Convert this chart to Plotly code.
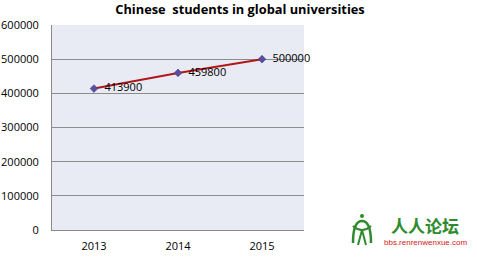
import plotly.graph_objects as go

years = ["2013", "2014", "2015"]
students = [413900, 459800, 500000]
labels = ["413900", "459800", "500000"]
y_ticks = [0, 100000, 200000, 300000, 400000, 500000, 600000]

W, H = 477, 257
L, R, T, B = 52, 173, 25, 27
pw, ph = W - L - R, H - T - B

def px(x):
    return (x - L) / pw

def py(y):
    return (H - B - y) / ph

fig = go.Figure()
fig.add_trace(go.Scatter(
    x=years, y=students, mode="lines+markers+text",
    text=["  " + t for t in labels], textposition="middle right",
    textfont=dict(family="Open Sans", size=11, color="#000000"),
    line=dict(color="#B01818", width=2),
    marker=dict(symbol="diamond", size=6, color="#5B4C9E",
                line=dict(color="#3A3A8A", width=0.5)),
    cliponaxis=False, showlegend=False,
))

fig.update_layout(
    width=W, height=H,
    margin=dict(l=L, r=R, t=T, b=B, autoexpand=False),
    paper_bgcolor="white",
    plot_bgcolor="#E8EAF4",
    title=dict(text="<b>Chinese  students in global universities</b>",
               x=240 / W, xref="container", xanchor="center",
               y=1 - 9.5 / H, yref="container", yanchor="middle",
               font=dict(family="Open Sans", size=12.8, color="#000000")),
    xaxis=dict(type="category", range=[-0.5, 2.5], showgrid=False,
               showline=True, linecolor="#8A8A8A", linewidth=1,
               ticks="", automargin=False,
               tickfont=dict(family="Open Sans", size=11, color="#000000"),
               ticklabelstandoff=6),
    yaxis=dict(range=[0, 600000], tickvals=y_ticks,
               ticktext=[str(v) for v in y_ticks],
               showgrid=True, gridcolor="#8C8C8C", gridwidth=1,
               showline=True, linecolor="#8A8A8A", linewidth=1,
               zeroline=False, ticks="", automargin=False,
               tickfont=dict(family="Open Sans", size=11, color="#000000"),
               ticklabelstandoff=10),
)

# watermark logo (decoration)
fig.add_annotation(text="<b>人人论坛</b>", xref="paper", yref="paper",
                   x=px(425), y=py(225), xanchor="center", yanchor="middle",
                   showarrow=False,
                   font=dict(family="Noto Sans CJK SC", size=17, color="#2E8B2E"))
fig.add_annotation(text="bbs.renrenwenxue.com", xref="paper", yref="paper",
                   x=px(425), y=py(242), xanchor="center", yanchor="middle",
                   showarrow=False,
                   font=dict(family="Liberation Sans", size=8, color="#D42020"))
icon_color = "#2E8B2E"
fig.add_shape(type="circle", xref="paper", yref="paper",
              x0=px(360), x1=px(364), y0=py(218), y1=py(214),
              fillcolor=icon_color, line=dict(width=0))
fig.add_shape(type="path", xref="paper", yref="paper",
              path=(f"M {px(353)},{py(243)} Q {px(353)},{py(221)} {px(362)},{py(221)} "
                    f"Q {px(371)},{py(221)} {px(371)},{py(243)}"),
              line=dict(color=icon_color, width=2.5))
fig.add_shape(type="path", xref="paper", yref="paper",
              path=(f"M {px(353)},{py(226)} Q {px(362)},{py(234)} {px(371)},{py(226)}"),
              line=dict(color=icon_color, width=2))
fig.add_shape(type="path", xref="paper", yref="paper",
              path=(f"M {px(362)},{py(230)} L {px(358)},{py(245)} M {px(362)},{py(230)} L {px(366)},{py(245)}"),
              line=dict(color=icon_color, width=2))

fig.write_html("out.html")
